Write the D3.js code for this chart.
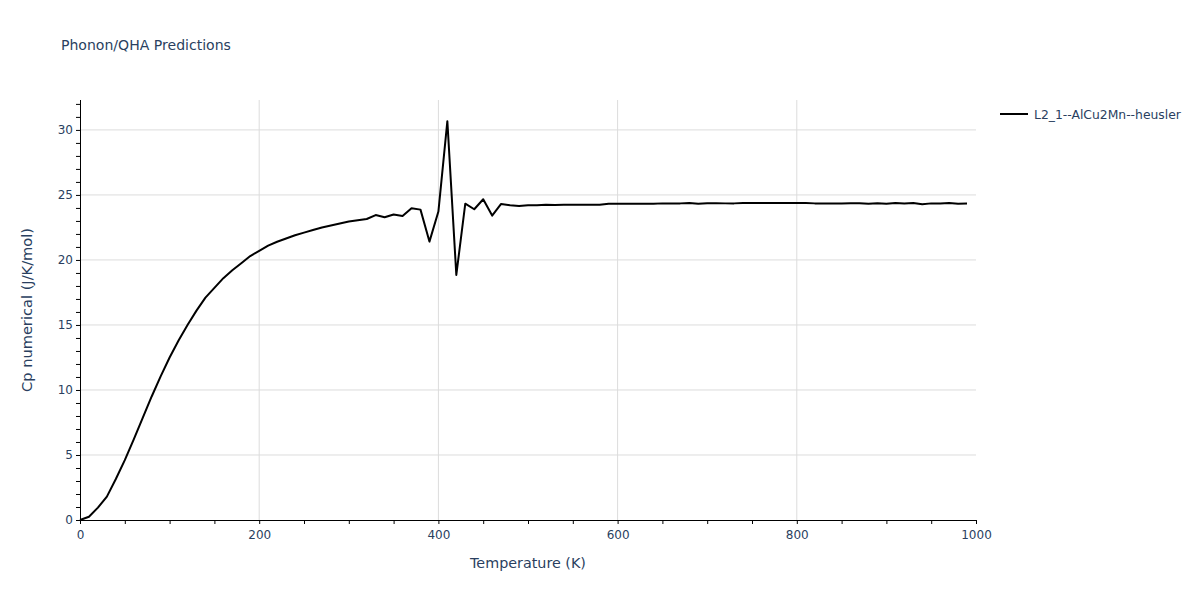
<!DOCTYPE html>
<html>
<head>
<meta charset="utf-8">
<script src="https://cdn.jsdelivr.net/npm/d3@7"></script>
<style>
  html, body { margin: 0; padding: 0; background: #fff; }
  svg { display: block; font-family: "DejaVu Sans", verdana, arial, sans-serif; }
</style>
</head>
<body>
<svg id="chart" width="1200" height="600"></svg>
<script>
// ---- Data ----
const temperatures = d3.range(0, 1000, 10); // 0..990 K
const cpValues = [
  0.0, 0.25, 0.95, 1.8, 3.15, 4.6, 6.2, 7.85, 9.5, 11.05,
  12.5, 13.8, 15.0, 16.1, 17.1, 17.85, 18.6, 19.2, 19.75, 20.3,
  20.7, 21.1, 21.4, 21.65, 21.9, 22.1, 22.3, 22.5, 22.65, 22.8,
  22.95, 23.05, 23.15, 23.45, 23.28, 23.5, 23.38, 23.98, 23.87, 21.41,
  23.72, 30.67, 18.85, 24.33, 23.9, 24.67, 23.41, 24.31, 24.2, 24.15,
  24.2, 24.2, 24.25, 24.22, 24.25, 24.25, 24.24, 24.24, 24.24, 24.33,
  24.33, 24.32, 24.33, 24.33, 24.33, 24.35, 24.35, 24.35, 24.38, 24.33,
  24.36, 24.36, 24.35, 24.35, 24.37, 24.37, 24.37, 24.37, 24.37, 24.37,
  24.37, 24.37, 24.35, 24.35, 24.35, 24.35, 24.36, 24.36, 24.33, 24.36,
  24.32, 24.37, 24.34, 24.38, 24.28, 24.35, 24.34, 24.37, 24.32, 24.34
];
const seriesName = "L2_1--AlCu2Mn--heusler";
const xTickValues = [0, 200, 400, 600, 800, 1000];
const yTickValues = [0, 5, 10, 15, 20, 25, 30];
const titleText = "Phonon/QHA Predictions";
const xTitle = "Temperature (K)";
const yTitle = "Cp numerical (J/K/mol)";

// ---- Layout ----
const svg = d3.select("#chart");
const plot = { left: 80, right: 976, top: 100, bottom: 520 };
const textColor = "#2a3f5f";
const gridColor = "#dcdcdc";
const fontFam = "'DejaVu Sans', verdana, arial, sans-serif";

function fitWidth(sel, target) {
  const node = sel.node();
  const fs = parseFloat(sel.attr("font-size"));
  const w = node.getComputedTextLength();
  if (w > 0) sel.attr("font-size", fs * target / w);
  return sel;
}

const x = d3.scaleLinear().domain([0, 1000]).range([plot.left, plot.right]);
const y = d3.scaleLinear().domain([0, 32.3]).range([plot.bottom, plot.top]);

// grid
svg.append("g").selectAll("line").data(xTickValues.filter(v => v > 0 && v < 1000)).join("line")
  .attr("x1", d => x(d)).attr("x2", d => x(d))
  .attr("y1", plot.top).attr("y2", plot.bottom)
  .attr("stroke", gridColor).attr("stroke-width", 1);
svg.append("g").selectAll("line").data(yTickValues.filter(v => v > 0)).join("line")
  .attr("x1", plot.left).attr("x2", plot.right)
  .attr("y1", d => y(d)).attr("y2", d => y(d))
  .attr("stroke", gridColor).attr("stroke-width", 1);

// axes
const xAxis = d3.axisBottom(x).tickValues(d3.range(0, 1001, 50))
  .tickFormat(d => xTickValues.includes(d) ? d : "").tickSize(4).tickPadding(6);
const gx = svg.append("g").attr("transform", `translate(0,${plot.bottom})`).call(xAxis);
const yAxis = d3.axisLeft(y).tickValues(d3.range(0, 33, 1))
  .tickFormat(d => yTickValues.includes(d) ? d : "").tickSize(4).tickPadding(3);
const gy = svg.append("g").attr("transform", `translate(${plot.left},0)`).call(yAxis);
[gx, gy].forEach(g => {
  g.select(".domain").attr("stroke", "#000").attr("stroke-width", 1);
  g.selectAll(".tick line").attr("stroke", "#000");
  g.selectAll(".tick text").attr("fill", textColor).attr("font-size", 12)
    .attr("font-family", fontFam);
});
gy.select(".domain").attr("d", `M0.5,${plot.bottom}V${plot.top}`);
gx.select(".domain").attr("d", `M${plot.left},0.5H${plot.right}`);

// line
const line = d3.line().x((d, i) => x(temperatures[i])).y(d => y(d));
svg.append("path").datum(cpValues)
  .attr("d", line).attr("fill", "none")
  .attr("stroke", "#000").attr("stroke-width", 2).attr("stroke-linejoin", "round");

// titles
fitWidth(svg.append("text").attr("x", 61).attr("y", 50).text(titleText)
  .attr("fill", textColor).attr("font-size", 14), 170);
fitWidth(svg.append("text").attr("x", (plot.left + plot.right) / 2).attr("y", 568)
  .attr("text-anchor", "middle").text(xTitle)
  .attr("fill", textColor).attr("font-size", 13), 116);
fitWidth(svg.append("text").attr("transform", `translate(32,${(plot.top + plot.bottom) / 2}) rotate(-90)`)
  .attr("text-anchor", "middle").text(yTitle)
  .attr("fill", textColor).attr("font-size", 13), 164);

// legend
const lg = svg.append("g").attr("transform", "translate(1000,114)");
lg.append("line").attr("x1", 0).attr("x2", 28).attr("y1", 0).attr("y2", 0)
  .attr("stroke", "#000").attr("stroke-width", 2);
fitWidth(lg.append("text").attr("x", 34).attr("y", 4.5).text(seriesName)
  .attr("fill", textColor).attr("font-size", 11), 147);
</script>
</body>
</html>
